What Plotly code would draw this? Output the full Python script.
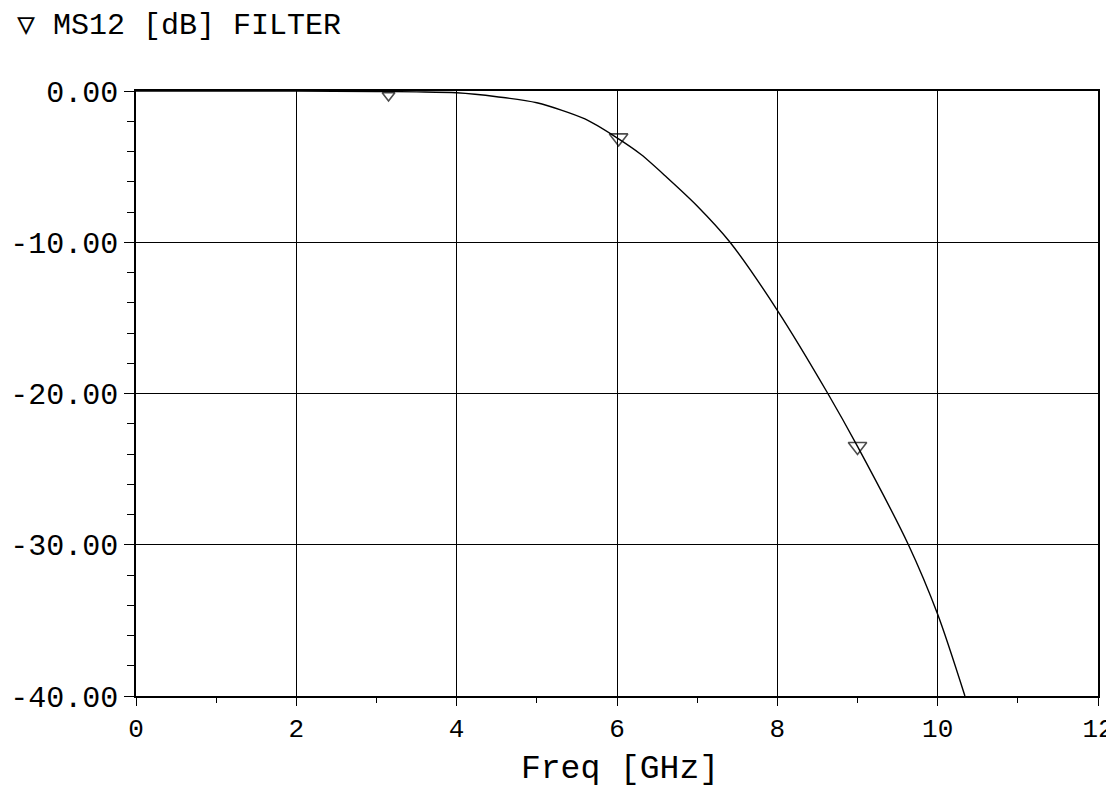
import plotly.graph_objects as go

# Data
freq_ghz = [0, 1, 2, 3, 3.5, 4, 4.5, 5, 5.6, 6.0, 6.3, 6.62, 7.0, 7.41, 8.0, 8.63,
            9.0, 9.635, 10.0, 10.34]
ms12_db = [0, 0, -0.01, -0.03, -0.06, -0.12, -0.38, -0.78, -1.85, -3.1, -4.2, -5.7,
           -7.6, -10.0, -14.5, -20.0, -23.5, -30.0, -34.6, -40.0]
marker_freq = [3.15, 6.02, 9.0]
marker_db = [-0.3, -3.1, -23.5]
marker_sizes = [11, 16, 16]

xtick_vals = [0, 2, 4, 6, 8, 10, 12]
xtick_text = ["0", "2", "4", "6", "8", "10", "12"]
ytick_vals = [0, -10, -20, -30, -40]
ytick_text = ["0.00", "-10.00", "-20.00", "-30.00", "-40.00"]

FONT = "Liberation Mono, Courier New, monospace"

fig = go.Figure()
fig.add_trace(go.Scatter(x=freq_ghz, y=ms12_db, mode="lines",
                         line=dict(color="black", width=1.4, shape="spline", smoothing=0.8),
                         showlegend=False, hoverinfo="skip"))
fig.add_trace(go.Scatter(x=marker_freq, y=marker_db, mode="markers",
                         marker=dict(symbol="triangle-down-open", size=marker_sizes,
                                     color="black", line=dict(width=1.6, color="black")),
                         showlegend=False, hoverinfo="skip"))

fig.update_layout(
    width=1106, height=782,
    margin=dict(l=128, r=16, t=83, b=94, autoexpand=False),
    paper_bgcolor="white", plot_bgcolor="white",
    font=dict(family=FONT, color="black"),
    xaxis=dict(range=[0, 12], tickvals=xtick_vals, ticktext=xtick_text,
               showgrid=True, gridcolor="black", gridwidth=1.1,
               showline=True, linecolor="black", linewidth=1.5, mirror=True,
               ticks="outside", ticklen=8, tickcolor="black", tickwidth=1,
               minor=dict(dtick=1, ticks="outside", ticklen=5, tickcolor="black", showgrid=False),
               zeroline=False, tickfont=dict(size=26, family=FONT),
               ticklabelstandoff=0, automargin=False),
    yaxis=dict(range=[-40, 0], tickvals=ytick_vals, ticktext=ytick_text,
               showgrid=True, gridcolor="black", gridwidth=1.1,
               showline=True, linecolor="black", linewidth=1.5, mirror=True,
               ticks="outside", ticklen=10, tickcolor="black", tickwidth=1,
               minor=dict(dtick=2, ticks="outside", ticklen=7, tickcolor="black", showgrid=False),
               zeroline=False, tickfont=dict(size=30, family=FONT),
               ticklabelstandoff=0, automargin=False),
    annotations=[
        dict(text="\u25bd MS12 [dB] FILTER", xref="paper", yref="paper",
             x=-0.126, y=1.108, xanchor="left", yanchor="middle", showarrow=False,
             font=dict(size=30, family=FONT)),
        dict(text="Freq [GHz]", xref="paper", yref="paper",
             x=0.503, y=-0.122, xanchor="center", yanchor="middle", showarrow=False,
             font=dict(size=33, family=FONT)),
    ],
)

fig.write_html("out.html")
